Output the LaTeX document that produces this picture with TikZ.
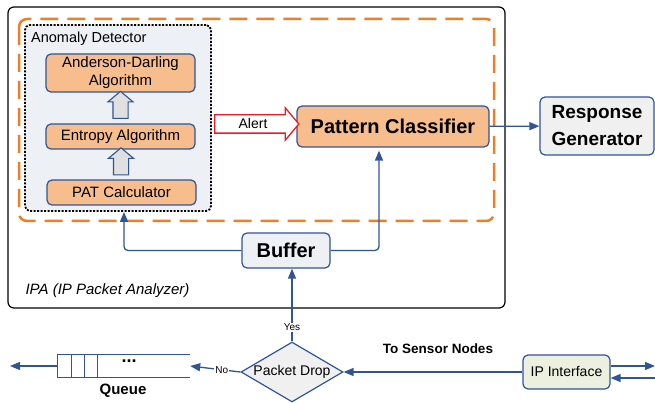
\documentclass[tikz,border=0pt]{standalone}
\usepackage{fontspec}
\setmainfont{Liberation Sans}
\definecolor{ipaBlue}{HTML}{2F5597}
\definecolor{ipaPeach}{HTML}{F7BD8C}
\definecolor{ipaOrange}{HTML}{F07E26}
\definecolor{ipaMist}{HTML}{EDF0F5}
\definecolor{ipaGray}{HTML}{F0F0F0}
\definecolor{ipaSage}{HTML}{EBF1DE}
\definecolor{ipaRed}{HTML}{E81C24}
\usetikzlibrary{arrows.meta, positioning, shapes.geometric, shapes.arrows, calc}
\newcommand{\ipafont}[2]{\fontsize{#1}{#2}\selectfont}

\begin{document}
\begin{tikzpicture}[
        x=1pt, y=-1pt,
        box/.style={
          rounded corners=5pt,
          draw=ipaBlue,
          fill=ipaPeach,
          line width=1.2pt,
          inner sep=0pt,
          align=center,
          font=\ipafont{15}{18},
        },
        graybox/.style={box, fill=ipaGray},
        uparr/.style={
          single arrow, rotate=90,
          draw=ipaBlue, fill=black!12, line width=1.1pt,
          inner sep=0pt, minimum height=27pt,
          single arrow head extend=5pt, single arrow tip angle=100,
        },
        link/.style={-{Triangle[length=10pt, width=8pt]}, ipaBlue, line width=1.3pt},
        lbl/.style={fill=white, text=black, inner sep=1pt, font=\ipafont{10}{11}},
      ]
        \useasboundingbox (0,0) rectangle (655,403);

        % analyzer frames
        \draw[rounded corners=6pt, line width=1.2pt] (8,7) rectangle (505,308);
        \draw[ipaOrange, line width=2.5pt, dash pattern=on 18pt off 9pt, rounded corners=8pt] (19,19) rectangle (494,221);
        \node[anchor=west, font=\ipafont{15}{18}\itshape] (ipalbl) at (22,291) {IPA (IP Packet Analyzer)};

        % anomaly detector
        \node[draw, fill=ipaMist, rounded corners=5pt, line width=1.8pt, dash pattern=on 2pt off 1.5pt,
              minimum width=186pt, minimum height=186pt] (anom) at (118,118) {};
        \node[anchor=west, inner sep=0pt, font=\ipafont{14.5}{16}] (anomlbl) at (31,39) {Anomaly Detector};
        \node[box, minimum width=149pt, minimum height=38pt] (adalg) at (120.5,73) {Anderson-Darling\\Algorithm};
        \node[box, minimum width=149pt, minimum height=25pt] (entropy) at (120.5,136.5) {Entropy Algorithm};
        \node[box, minimum width=149pt, minimum height=25pt] (pat) at (121.5,192.5) {PAT Calculator};
        \node[uparr] (up1) at ($(adalg.south)!0.5!(entropy.north)$) {\rule{0pt}{14pt}};
        \node[uparr] (up2) at ($(entropy.south)!0.5!(pat.north)$) {\rule{0pt}{14pt}};

        % classifier side
        \node[box, minimum width=192pt, minimum height=41pt, font=\ipafont{20}{22}\bfseries] (pattern) at (393,126.5) {Pattern Classifier};
        \node[single arrow, draw=ipaRed, fill=white, line width=1.3pt, inner sep=0pt,
              minimum height=84pt, single arrow head extend=7pt,
              single arrow tip angle=100, font=\ipafont{14}{15}] (alert) at (253,124) {\rule[-4pt]{0pt}{17pt}Alert};
        \node[graybox, minimum width=114pt, minimum height=58pt, font=\ipafont{19}{27}\bfseries] (response) at (597,126) {Response\\Generator};
        \node[graybox, fill=ipaMist, minimum width=88pt, minimum height=35pt, font=\ipafont{20}{22}\bfseries] (buffer) at (286,250.5) {Buffer};

        % input side
        \node[diamond, draw=ipaBlue, fill=ipaGray, line width=1.2pt, aspect=1.7, inner sep=0pt,
              minimum width=102pt, minimum height=60pt, font=\ipafont{14}{16}] (drop) at (292,372) {Packet Drop};
        \node[graybox, fill=ipaSage, minimum width=87pt, minimum height=34pt, font=\ipafont{14}{16}] (ipif) at (566.5,372) {IP Interface};
        \node[font=\ipafont{13.5}{15}\bfseries] (tosensor) at (438,349) {To Sensor Nodes};

        % queue
        \node[minimum width=132pt, minimum height=22pt, inner sep=0pt] (queue) at (124,366) {};
        \draw[ipaBlue, line width=1.2pt] (queue.north east) -- (queue.north west) -- (queue.south west) -- (queue.south east);
        \foreach \dx in {14,27,40}
          \draw[ipaBlue, line width=1.2pt] ($(queue.north west)+(\dx,0)$) -- ($(queue.south west)+(\dx,0)$);
        \node[font=\ipafont{18}{18}\bfseries] (dots) at (129,361) {...};
        \node[font=\ipafont{15}{16}\bfseries] (queuelbl) at (123,391) {Queue};
        \coordinate (qout) at (10,366);
        \coordinate (outR) at (655,366);
        \coordinate (inR) at (655,378);

        \draw[link] (pattern) -- (response);
        \draw[link, rounded corners=4pt] (buffer.west) -| ($(anom.south)+(6,0)$);
        \draw[link, rounded corners=4pt, shorten >=3pt] (buffer.east) -| ($(pattern.south)+(-14,0)$);
        \draw[link] (drop.north) -- node[lbl, pos=0.19] {Yes} (drop.north |- buffer.south);
        \draw[link] (drop.west) -- node[lbl, pos=0.37] {No} (queue.east);
        \draw[link] (queue.west) -- (qout);
        \draw[link] (ipif.west) -- (drop.east);
        \draw[link] (ipif.east |- outR) -- (outR);
        \draw[link] (inR) -- (ipif.east |- inR);
      \end{tikzpicture}
\end{document}
